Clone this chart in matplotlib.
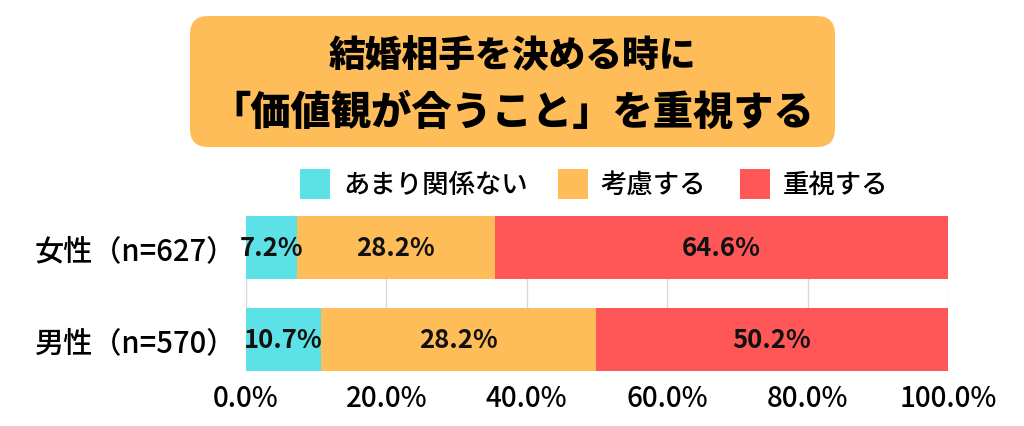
import numpy as np
import matplotlib.pyplot as plt
from matplotlib.patches import FancyBboxPatch, Rectangle

plt.rcParams['font.family'] = ['Noto Sans CJK JP', 'DejaVu Sans']

# Data
groups = ['女性（n=627）', '男性（n=570）']
categories = ['あまり関係ない', '考慮する', '重視する']
women = [7.2, 28.2, 64.6]
men = [10.7, 39.1, 50.2]
# labels as printed on the original chart (men's middle label reads 28.2%)
women_labels = ['7.2%', '28.2%', '64.6%']
men_labels = ['10.7%', '28.2%', '50.2%']
colors = ['#5CE1E6', '#FFBD59', '#FF5757']

values = np.array([women, men])
labels = [women_labels, men_labels]

fig = plt.figure(figsize=(10.24, 4.27), dpi=100)
ax = fig.add_axes([246 / 1024, 1 - 372 / 427, 702 / 1024, 155 / 427])

y = np.arange(len(groups))
left = np.zeros(len(groups))
for j, cat in enumerate(categories):
    ax.barh(y, values[:, j], left=left, height=0.68, color=colors[j], zorder=2)
    for i in range(len(groups)):
        ax.text(left[i] + values[i, j] / 2, y[i], labels[i][j], ha='center', va='center',
                fontsize=18.5, fontweight='bold', color='#111111', zorder=3)
    left += values[:, j]

ax.set_xlim(0, 100)
ax.set_ylim(1.34, -0.34)
ax.set_xticks(np.arange(0, 101, 20))
ax.set_xticklabels([f'{t:.1f}%' for t in np.arange(0, 101, 20)], fontsize=20, fontweight='medium')
ax.set_yticks(y)
ax.set_yticklabels(groups, fontsize=21, fontweight='medium')
ax.tick_params(length=0)
ax.tick_params(axis='x', pad=9)
ax.tick_params(axis='y', pad=7)
ax.grid(axis='x', color='#D9D9D9', linewidth=1, zorder=0)
for s in ax.spines.values():
    s.set_visible(False)

# Title box
box = FancyBboxPatch((1.90, 2.79), 6.45, 1.31, boxstyle='round,pad=0,rounding_size=0.18',
                     transform=fig.dpi_scale_trans, facecolor='#FFBD59', edgecolor='none')
fig.patches.append(box)
fig.text(0.5, 1 - 56 / 427, '結婚相手を決める時に', ha='center', va='center',
         fontsize=26.5, fontweight='heavy')
fig.text(0.5, 1 - 113 / 427, '「価値観が合うこと」を重視する', ha='center', va='center',
         fontsize=29, fontweight='heavy')

# Legend
legend_x = [300, 558, 740]
for j, cat in enumerate(categories):
    fig.patches.append(Rectangle((legend_x[j] / 1024, 1 - 200 / 427), 30 / 1024, 30 / 427,
                                 transform=fig.transFigure, facecolor=colors[j], edgecolor='none'))
    fig.text((legend_x[j] + 43) / 1024, 1 - 185 / 427, cat, ha='left', va='center',
             fontsize=19, fontweight='medium')

plt.savefig('out.png', dpi=100)
